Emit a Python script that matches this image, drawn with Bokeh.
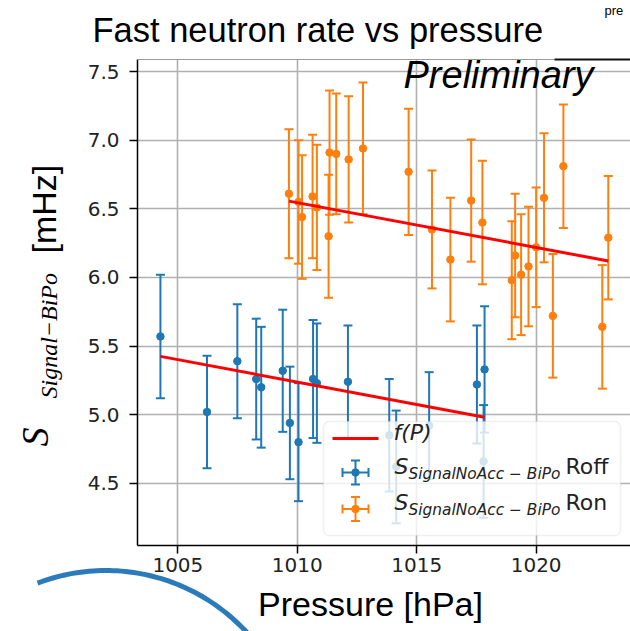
import numpy as np
from bokeh.plotting import figure
from bokeh.models import (Range1d, FixedTicker, Label, BoxAnnotation,
                          ColumnDataSource, PrintfTickFormatter)
from bokeh.core.properties import value
from bokeh.embed import file_html
from bokeh.resources import INLINE

# ---------------- data ----------------
roff_p = [1004.27, 1006.22, 1007.49, 1008.28, 1008.49, 1009.39, 1009.69, 1010.05, 1010.66,
          1010.82, 1012.12, 1013.85, 1014.14, 1015.52, 1017.52, 1017.80, 1017.84]
roff_v = [5.57, 5.02, 5.39, 5.26, 5.20, 5.32, 4.94, 4.80, 5.26,
          5.23, 5.24, 4.85, 4.62, 4.92, 5.22, 4.66, 5.33]
roff_e = [0.45, 0.41, 0.415, 0.44, 0.44, 0.445, 0.41, 0.43, 0.43,
          0.435, 0.41, 0.41, 0.41, 0.39, 0.43, 0.41, 0.46]

ron_p = [1009.65, 1010.05, 1010.20, 1010.64, 1010.82, 1011.31, 1011.35, 1011.63, 1012.15,
         1012.75, 1014.66, 1015.64, 1016.41, 1017.28, 1017.75, 1018.98, 1019.12, 1019.37,
         1019.68, 1020.00, 1020.33, 1020.70, 1021.14, 1022.77, 1023.02]
ron_v = [6.61, 6.55, 6.44, 6.59, 6.51, 6.30, 6.91, 6.90, 6.86,
         6.94, 6.77, 6.35, 6.13, 6.56, 6.40, 5.98, 6.16, 6.02,
         6.08, 6.22, 6.58, 5.72, 6.81, 5.64, 6.29]
ron_e = [0.47, 0.45, 0.45, 0.45, 0.456, 0.448, 0.453, 0.44, 0.46,
         0.48, 0.46, 0.43, 0.45, 0.445, 0.45, 0.43, 0.45, 0.44,
         0.436, 0.436, 0.47, 0.45, 0.45, 0.45, 0.45]

fit_roff_p = [1004.27, 1017.84]
fit_roff_v = [5.425, 4.982]
fit_ron_p = [1009.65, 1023.02]
fit_ron_v = [6.556, 6.120]

x_ticks = [1005, 1010, 1015, 1020]
y_ticks = [4.5, 5.0, 5.5, 6.0, 6.5, 7.0, 7.5]
x_lim = (1003.31, 1023.95)
y_lim = (4.047, 7.588)

title_text = "Fast neutron rate vs pressure"
xlabel_text = "Pressure [hPa]"
prelim_text = "Preliminary"
corner_text = "pre"
leg_fit = "f(P)"
leg_sub = "SignalNoAcc \u2212 BiPo"
leg_roff = "Roff"
leg_ron = "Ron"
ylab_s = "S"
ylab_sub = "Signal\u2212BiPo"
ylab_unit = "[mHz]"

BLUE = "#1f77b4"
ORANGE = "#ff7f0e"

# ---------------- layout ----------------
W, H = 630, 631
L, R, T, B = 137, 630, 59, 545


def dx(px):
    return x_lim[0] + (px - L) * (x_lim[1] - x_lim[0]) / (R - L)


def dy(py):
    return y_lim[1] - (py - T) * (y_lim[1] - y_lim[0]) / (B - T)


p = figure(width=W, height=H, x_range=Range1d(*x_lim), y_range=Range1d(*y_lim),
           output_backend="svg", toolbar_location=None,
           min_border_left=L, min_border_right=W - R, min_border_top=T, min_border_bottom=H - B)
p.background_fill_color = "white"
p.border_fill_color = "white"
p.outline_line_color = None

for ax, ticks in ((p.xaxis, x_ticks), (p.yaxis, y_ticks)):
    ax.ticker = FixedTicker(ticks=ticks)
    ax.major_tick_out = 8
    ax.major_tick_in = 0
    ax.minor_tick_out = 0
    ax.minor_tick_in = 0
    ax.major_tick_line_width = 1.5
    ax.axis_line_width = 1.5
    ax.major_label_text_font = "DejaVu Sans"
    ax.major_label_text_font_size = "20px"
    ax.major_label_text_color = "#222222"
p.xaxis.major_label_standoff = 4
p.yaxis.major_label_standoff = 10
p.yaxis.formatter = PrintfTickFormatter(format="%.1f")

for g in (p.xgrid, p.ygrid):
    g.grid_line_color = "#b0b0b0"
    g.grid_line_width = 1.6

# top spine: faint under the title, dark at the right
p.line([x_lim[0], dx(554)], [y_lim[1], y_lim[1]], line_color="#9a9a9a", line_width=1.2,
       level="overlay")
p.line([dx(554), x_lim[1]], [y_lim[1], y_lim[1]], line_color="#111111", line_width=2,
       level="overlay")


def errbars(px, pv, pe, color):
    src = ColumnDataSource(dict(x=px, y=pv,
                                lo=[v - e for v, e in zip(pv, pe)],
                                hi=[v + e for v, e in zip(pv, pe)]))
    p.segment(x0="x", y0="lo", x1="x", y1="hi", source=src, line_color=color, line_width=2)
    p.scatter("x", "lo", source=src, marker="dash", size=9, line_color=color, line_width=2)
    p.scatter("x", "hi", source=src, marker="dash", size=9, line_color=color, line_width=2)
    p.scatter("x", "y", source=src, size=7.5, fill_color=color, line_color=color)


errbars(roff_p, roff_v, roff_e, BLUE)
errbars(ron_p, ron_v, ron_e, ORANGE)
p.line(fit_roff_p, fit_roff_v, line_color="red", line_width=3)
p.line(fit_ron_p, fit_ron_v, line_color="red", line_width=3)

# ---------------- legend (drawn by hand) ----------------
p.add_layout(BoxAnnotation(left=dx(323), right=dx(620), top=dy(421), bottom=dy(535),
                           fill_color="white", fill_alpha=0.8, line_color="#cccccc",
                           line_width=1.5, border_radius=6))
p.line([dx(332), dx(378)], [dy(438), dy(438)], line_color="red", line_width=3, level="overlay")
for yc, col in ((472, BLUE), (508.5, ORANGE)):
    p.segment(x0=[dx(355), dx(342)], y0=[dy(yc - 12), dy(yc)], x1=[dx(355), dx(368)],
              y1=[dy(yc + 12), dy(yc)], line_color=col, line_width=2, level="overlay")
    p.scatter([dx(355), dx(355)], [dy(yc - 12), dy(yc + 12)], marker="dash", size=9,
              line_color=col, line_width=2, level="overlay")
    p.scatter([dx(342), dx(368)], [dy(yc), dy(yc)], marker="dash", size=9, angle=np.pi / 2,
              line_color=col, line_width=2, level="overlay")
    p.scatter([dx(355)], [dy(yc)], size=7.5, fill_color=col, line_color=col, level="overlay")

p.add_layout(Label(x=dx(393), y=dy(444), text=leg_fit, text_font="DejaVu Sans",
                   text_font_style="italic", text_font_size="22px", text_color="#222222"))
for base, lab in ((478, leg_roff), (514.5, leg_ron)):
    p.add_layout(Label(x=dx(394), y=dy(base), text="S", text_font="DejaVu Sans",
                       text_font_style="italic", text_font_size="22px", text_color="#222222"))
    p.add_layout(Label(x=dx(408), y=dy(base + 4), text=leg_sub, text_font="DejaVu Sans",
                       text_font_style="italic", text_font_size="15.4px", text_color="#222222"))
    p.add_layout(Label(x=dx(565), y=dy(base), text=lab, text_font="DejaVu Sans",
                       text_font_size="22px", text_color="#222222"))

p.add_layout(Label(x=dx(403), y=dy(95), text=prelim_text, text_font="Liberation Sans",
                   text_font_style="italic", text_font_size="38px", text_color="black"))

# ---------------- texts outside the frame ----------------
# horizontal texts: labels placed in side panels (not clipped to the frame)
p.add_layout(Label(x=dx(92), y=dy(48), text=title_text, text_font="Liberation Sans",
                   text_font_size="34.5px", text_color="black"), "above")
p.add_layout(Label(x=dx(604), y=dy(17), text=corner_text, text_font="Liberation Sans",
                   text_font_size="13px", text_color="black"), "above")
p.add_layout(Label(x=dx(370), y=dy(622), text=xlabel_text, text_font="Liberation Sans",
                   text_align="center", text_font_size="34px", text_color="black"), "below")


# rotated y label pieces: overlay-level text glyphs (not clipped)
def rot_text(base_x, start_y, txt, font, size, style="normal"):
    p.text(x=[dx(base_x - 0.4 * size)], y=[dy(start_y)], text=[txt], angle=np.pi / 2,
           text_font=value(font), text_font_style=style, text_font_size=f"{size}px",
           text_align="left", text_baseline="alphabetic", text_color="black", level="overlay")


rot_text(50, 446, ylab_s, "Liberation Serif", 38, style="italic")
rot_text(58, 398, ylab_sub, "Liberation Serif", 24, style="italic")
rot_text(57, 253, ylab_unit, "Liberation Sans", 34)

# decorative arc at bottom left (slide decoration)
cx, cy, rr = 105.5, 761.0, 191.0
th = np.linspace(np.radians(39), np.radians(111), 60)
ox = cx + (rr + 2.5) * np.cos(th)
oy = cy - (rr + 2.5) * np.sin(th)
ix = cx + (rr - 2.5) * np.cos(th[::-1])
iy = cy - (rr - 2.5) * np.sin(th[::-1])
p.patch(x=[dx(v) for v in np.concatenate([ox, ix])],
        y=[dy(v) for v in np.concatenate([oy, iy])],
        fill_color="#2b7bba", line_color=None, level="overlay")

open("out.html", "w").write(file_html(p, INLINE))
